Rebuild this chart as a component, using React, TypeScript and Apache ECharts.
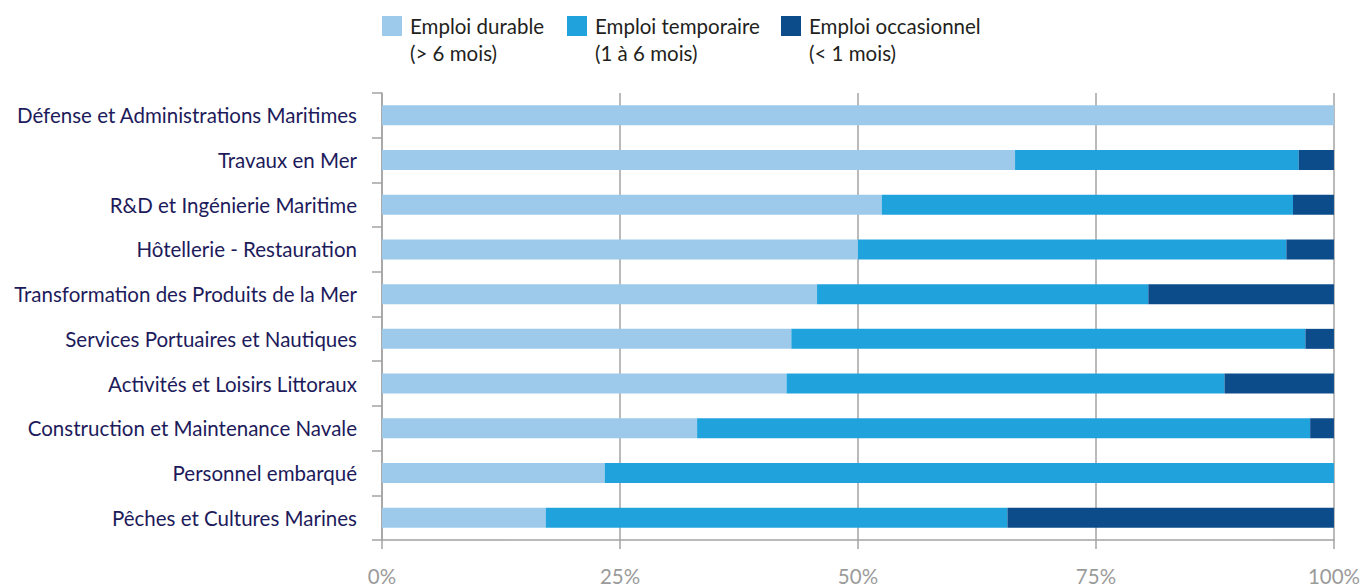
import React, { useEffect, useRef } from "react";
import * as echarts from "echarts";

const categories = [
  "Défense et Administrations Maritimes",
  "Travaux en Mer",
  "R&D et Ingénierie Maritime",
  "Hôtellerie - Restauration",
  "Transformation des Produits de la Mer",
  "Services Portuaires et Nautiques",
  "Activités et Loisirs Littoraux",
  "Construction et Maintenance Navale",
  "Personnel embarqué",
  "Pêches et Cultures Marines",
];

const durable = [100, 66.5, 52.5, 50.0, 45.7, 43.0, 42.5, 33.1, 23.4, 17.2];
const temporaire = [0, 29.8, 43.2, 45.0, 34.8, 54.0, 46.0, 64.4, 76.6, 48.5];
const occasionnel = [0, 3.7, 4.3, 5.0, 19.5, 3.0, 11.5, 2.5, 0, 34.3];

const seriesNames = ["Emploi durable", "Emploi temporaire", "Emploi occasionnel"];
const seriesSubtitles = ["(> 6 mois)", "(1 à 6 mois)", "(< 1 mois)"];
const seriesColors = ["#9DCAEB", "#20A3DD", "#0D4C8B"];
const xTicks = [0, 25, 50, 75, 100];

const FONT = "Lato, 'Open Sans', sans-serif";
const AXIS_GRAY = "#A3A3A5";

export default function App() {
  const ref = useRef<HTMLDivElement>(null);

  useEffect(() => {
    if (!ref.current) return;
    const chart = echarts.init(ref.current, undefined, { renderer: "svg" });

    const legendX = [382, 567, 781];
    const legendGraphics: any[] = [];
    seriesNames.forEach((name, i) => {
      legendGraphics.push({
        type: "rect",
        shape: { x: legendX[i], y: 16, width: 20, height: 20 },
        style: { fill: seriesColors[i] },
      });
      legendGraphics.push({
        type: "text",
        x: legendX[i] + 28,
        y: 12,
        style: {
          text: name + "\n" + seriesSubtitles[i],
          fill: "#231F20",
          fontSize: 20.5,
          fontFamily: FONT,
          lineHeight: 27,
          verticalAlign: "top",
        },
      });
    });

    const data = [durable, temporaire, occasionnel];

    chart.setOption({
      animation: false,
      backgroundColor: "#ffffff",
      grid: { left: 382, right: 27, top: 93, bottom: 44, containLabel: false },
      xAxis: {
        type: "value",
        min: xTicks[0],
        max: xTicks[xTicks.length - 1],
        interval: xTicks[1] - xTicks[0],
        axisLine: { show: true, lineStyle: { color: AXIS_GRAY, width: 1.5 } },
        axisTick: { show: true, length: 9, lineStyle: { color: AXIS_GRAY, width: 1.5 } },
        splitLine: { show: true, lineStyle: { color: AXIS_GRAY, width: 1.5 } },
        axisLabel: {
          formatter: "{value}%",
          color: "#9B9B9B",
          fontSize: 20.5,
          fontFamily: FONT,
          margin: 25,
        },
      },
      yAxis: {
        type: "category",
        inverse: true,
        data: categories,
        axisLine: { show: true, lineStyle: { color: AXIS_GRAY, width: 1.5 } },
        axisTick: { show: true, length: 10, lineStyle: { color: AXIS_GRAY, width: 1.5 } },
        splitLine: { show: false },
        axisLabel: {
          color: "#1D1B5B",
          fontSize: 20.5,
          fontFamily: FONT,
          margin: 25,
        },
      },
      graphic: legendGraphics,
      series: seriesNames.map((name, i) => ({
        name,
        type: "bar",
        stack: "total",
        barWidth: 20,
        itemStyle: { color: seriesColors[i] },
        data: data[i],
      })),
    });

    return () => chart.dispose();
  }, []);

  return (
    <div
      ref={ref}
      style={{ position: "fixed", left: 0, top: 0, width: 1363, height: 586 }}
    />
  );
}
